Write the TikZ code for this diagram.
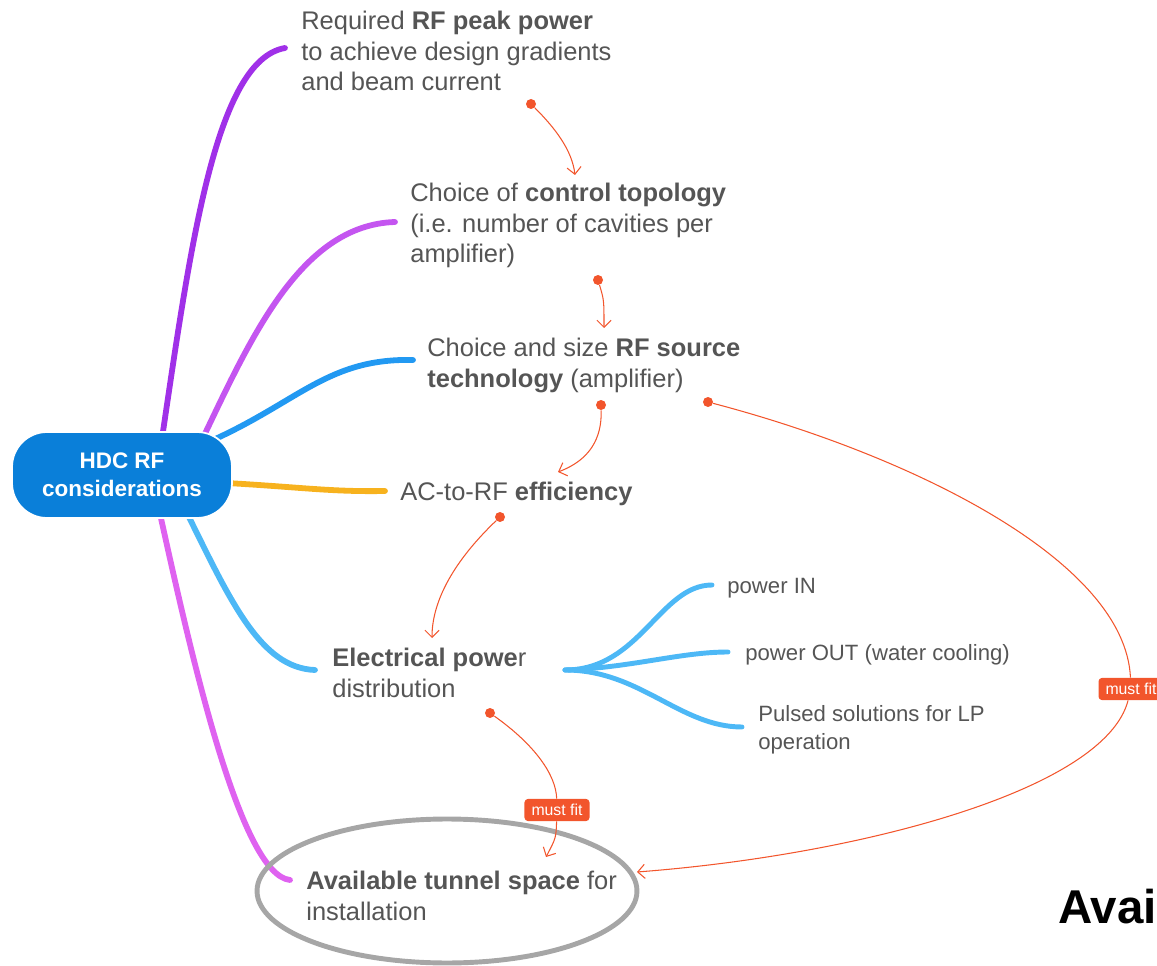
\documentclass[tikz,border=0pt]{standalone}
\usepackage{fontspec}
\setmainfont{Liberation Sans}
\usetikzlibrary{arrows.meta,backgrounds,shapes.geometric}
\definecolor{textgray}{HTML}{555555}
\definecolor{rootblue}{HTML}{0A7FD9}
\definecolor{purpleA}{HTML}{A030E8}
\definecolor{purpleB}{HTML}{C455F0}
\definecolor{midblue}{HTML}{2299F2}
\definecolor{amber}{HTML}{F7B21E}
\definecolor{skyblue}{HTML}{4DB8F6}
\definecolor{orchid}{HTML}{DF62F0}
\definecolor{linkred}{HTML}{F2552C}
\definecolor{ringgray}{HTML}{A6A6A6}

\begin{document}
\begin{tikzpicture}[x=0.02cm,y=-0.02cm,
  topic/.style={anchor=north west,inner sep=0pt,align=left,text=textgray,
    font=\fontsize{14.5}{17.4}\selectfont},
  subtopic/.style={topic,font=\fontsize{12.6}{16}\selectfont},
  rootbox/.style={fill=rootblue,draw=white,line width=1pt,rounded corners=0.7cm,
    minimum width=4.4cm,minimum height=1.72cm,text=white,align=center,
    font=\bfseries\fontsize{12.8}{16}\selectfont},
  branch/.style={line width=3.3pt,line cap=round},
  twig/.style={line width=2.8pt,line cap=round,draw=skyblue},
  dot/.style={circle,fill=linkred,inner sep=0pt,minimum size=0.2cm},
  wire/.style={draw=linkred,line width=0.6pt},
  link/.style={wire,-{Straight Barb[length=4pt,width=8pt]}},
  tag/.style={fill=linkred,text=white,rounded corners=2pt,inner xsep=4pt,inner ysep=3pt,
    font=\fontsize{9}{10}\selectfont}]
\useasboundingbox (0,0) rectangle (1157,966);

% central topic
\node[rootbox] (root) at (122,475) {HDC RF\\considerations};

% topics
\node[topic] (peak) at (301,11) {Required \textbf{RF peak power}\\to achieve design gradients\\and beam current};
\node[topic] (ctrl) at (410,183) {Choice of \textbf{control topology}\\(i.e. number of cavities per\\amplifier)};
\node[topic] (src) at (427,338) {Choice and size \textbf{RF source}\\\textbf{technology} (amplifier)};
\node[topic] (eff) at (400,482) {AC-to-RF \textbf{efficiency}};
\node[topic] (elec) at (332,648) {\textbf{Electrical powe}r\\distribution};
\node[topic] (tunnel) at (306,871) {\textbf{Available tunnel space} for\\installation};
\node[subtopic] (pin) at (727,578) {power IN};
\node[subtopic] (pout) at (745,644) {power OUT (water cooling)};
\node[subtopic] (puls) at (758,705) {Pulsed solutions for LP\\operation};
\node[anchor=north west,inner sep=0pt,font=\bfseries\fontsize{27}{30}\selectfont] (cut) at (1058,889) {Avai};

% branch ends
\coordinate (bpeak) at (285,48);
\coordinate (bctrl) at (395,222);
\coordinate (bsrc) at (413,360);
\coordinate (beff) at (385,491);
\coordinate (belec) at (315,670);
\coordinate (btun) at (290,880);
\coordinate (fork) at (565,670);
\coordinate (tpin) at (712,585);
\coordinate (tpout) at (728,652);
\coordinate (tpuls) at (742,727);

\begin{scope}[on background layer]
\draw[branch,purpleA] ([yshift=-6pt]root.48) .. controls (190,250) and (215,60) .. (bpeak);
\draw[branch,purpleB] ([yshift=-6pt]root.29) .. controls (250,340) and (300,225) .. (bctrl);
\draw[branch,midblue] ([xshift=-10pt]root.18) .. controls (300,400) and (330,358) .. (bsrc);
\draw[branch,amber] ([xshift=-6pt]root.-4) .. controls (300,487) and (330,492) .. (beff);
\draw[branch,skyblue] ([yshift=6pt]root.-35) .. controls (230,600) and (260,668) .. (belec);
\draw[branch,orchid] ([yshift=6pt]root.-50) .. controls (190,650) and (240,875) .. (btun);
\end{scope}

\draw[twig] (fork) .. controls (640,670) and (660,585) .. (tpin);
\draw[twig] (fork) .. controls (630,668) and (680,652) .. (tpout);
\draw[twig] (fork) .. controls (640,670) and (680,727) .. (tpuls);

% space limit
\node[ellipse,draw=ringgray,line width=2.8pt,minimum width=7.6cm,minimum height=2.88cm] (ring) at (447,891) {};

% dependencies
\node[dot] (d1) at (531,104) {};
\node[dot] (d2) at (598,280) {};
\node[dot] (d3) at (601,405) {};
\node[dot] (d4) at (500,517) {};
\node[dot] (d5) at (490,713) {};
\node[dot] (d6) at (708,402) {};
\coordinate (e1) at (575,175);
\coordinate (e2) at (604,328);
\coordinate (e3) at (558,472);
\coordinate (e4) at (432,638);
\coordinate (e5) at (546,857);
\coordinate (e6) at (637,872);

\draw[link] (d1) .. controls (555,128) and (572,150) .. (e1);
\draw[link] (d2) .. controls (604,300) .. (e2);
\draw[link] (d3) .. controls (602,438) and (590,460) .. (e3);
\draw[link] (d4) .. controls (455,560) and (432,600) .. (e4);

\node[tag] (fit1) at (557,810) {must fit};
\node[tag] (fit2) at (1131,689) {must fit};

\draw[wire] (d5) .. controls (535,745) and (556,775) .. (fit1);
\draw[link] (fit1) .. controls (556,838) .. (e5);
\draw[wire] (d6) .. controls (910,455) and (1125,560) .. (fit2);
\draw[link] (fit2) .. controls (1105,790) and (860,855) .. (e6);
\end{tikzpicture}
\end{document}
